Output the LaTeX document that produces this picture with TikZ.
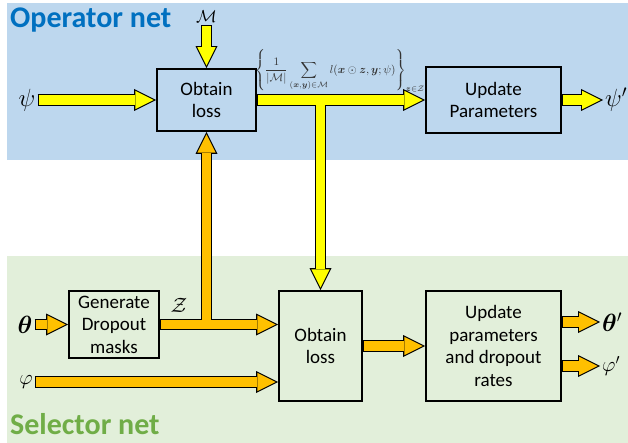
\documentclass[tikz,border=0pt]{standalone}
\usepackage[no-math]{fontspec}
\setmainfont{Carlito}
\usepackage{bm}
\usetikzlibrary{arrows.meta}
\definecolor{operatorbg}{HTML}{BDD7EE}
\definecolor{selectorbg}{HTML}{E2EFDA}
\definecolor{operatortext}{HTML}{0070C0}
\definecolor{selectortext}{HTML}{70AD47}
\definecolor{lossyellow}{HTML}{FFFF00}
\definecolor{maskorange}{HTML}{FFC000}

\begin{document}
\begin{tikzpicture}%
	[x=1pt, y=-1pt,
	box/.style={draw=black, line width=1.7pt, inner sep=0pt, align=center,
		font=\fontsize{19}{22.5}\selectfont},
	var/.style={inner sep=2pt, font=\fontsize{21}{25}\selectfont},
	title/.style={anchor=base west, inner sep=0pt, font=\fontsize{30}{36}\selectfont\bfseries},
	arrowedge/.style={draw=black, line width=11.5pt,
		-{Triangle[length=22pt,width=22pt,line width=0pt]}},
	arrowbody/.style={draw=#1, line width=9.3pt, shorten <=1.1pt, shorten >=2.46pt,
		-{Triangle[length=18.44pt,width=18.44pt,line width=0pt]}}]
%
\useasboundingbox (0,0) rectangle (628,443);
\fill[operatorbg] (7,3) rectangle (628,160);
\fill[selectorbg] (7,256) rectangle (628,443);
\node[title, text=operatortext] (optitle) at (10,28) {Operator net};
\node[title, text=selectortext] (seltitle) at (10,434) {Selector net};
%%
%% Boxes
%%
\node[box, minimum width=99pt, minimum height=62pt] (obtainA) at (206.5,100) {Obtain\\loss};
\node[box, minimum width=135pt, minimum height=66pt] (updA) at (493.5,100) {Update\\Parameters};
\node[box, minimum width=90pt, minimum height=67pt] (genmask) at (114,324.5) {Generate\\Dropout\\masks};
\node[box, minimum width=83pt, minimum height=110pt] (obtainB) at (320.5,346) {Obtain\\loss};
\node[box, minimum width=135pt, minimum height=110pt] (updB) at (493.5,346) {Update\\parameters\\and dropout\\rates};
%%
%% Variables
%%
\node[var, font=\fontsize{25}{30}\selectfont] (psi) at (27,100) {$\psi$};
\node[var, font=\fontsize{25}{30}\selectfont, anchor=west] (psip) at (603,100) {$\psi'$};
\node[var, font=\fontsize{18}{22}\selectfont] (M) at (206.5,17) {$\mathcal{M}$};
\node[var] (Z) at (179,305) {$\mathcal{Z}$};
\node[var, font=\fontsize{24}{28}\selectfont] (theta) at (25,324.5) {$\bm{\theta}$};
\node[var] (phi) at (26,382) {$\varphi$};
\node[var, font=\fontsize{24}{28}\selectfont, anchor=west] (thetap) at (600,322) {$\bm{\theta}'$};
\node[var, anchor=west] (phip) at (600,366) {$\varphi'$};
\node[inner sep=0pt, text=black!80] (loss) at (340,71)
	{\resizebox{170pt}{!}{$\displaystyle\left\{\frac{1}{|\mathcal{M}|}\sum_{(\bm{x},\bm{y})\in\mathcal{M}} l(\bm{x}\odot\bm{z},\bm{y};\psi)\right\}_{\bm{z}\in\mathcal{Z}}$}};
%
\coordinate (ysplit) at (obtainA.east -| obtainB.north);
\coordinate (osplit) at (obtainA.south |- genmask.east);
\coordinate (zin) at (genmask.east -| obtainB.west);
\coordinate (phiin) at (phi -| obtainB.west);
%%
%% Drawing the arrow outlines
%%
\draw[arrowedge] (psi) -- (obtainA);
\draw[arrowedge] (M) -- (obtainA);
\draw[arrowedge] (obtainA) -- (updA);
\draw[arrowedge] (ysplit) -- (obtainB);
\draw[arrowedge] (updA) -- (psip);
\draw[arrowedge] (theta) -- (genmask);
\draw[arrowedge] (genmask) -- (zin);
\draw[arrowedge] (osplit) -- (obtainA);
\draw[arrowedge] (phi) -- (phiin);
\draw[arrowedge] (obtainB) -- (updB);
\draw[arrowedge] (updB.east |- thetap) -- (thetap);
\draw[arrowedge] (updB.east |- phip) -- (phip);
%%
%% Drawing the arrow bodies
%%
\draw[arrowbody=lossyellow] (psi) -- (obtainA);
\draw[arrowbody=lossyellow] (M) -- (obtainA);
\draw[arrowbody=lossyellow] (obtainA) -- (updA);
\draw[arrowbody=lossyellow] (ysplit) -- (obtainB);
\draw[arrowbody=lossyellow] (updA) -- (psip);
\draw[arrowbody=maskorange] (theta) -- (genmask);
\draw[arrowbody=maskorange] (genmask) -- (zin);
\draw[arrowbody=maskorange] (osplit) -- (obtainA);
\draw[arrowbody=maskorange] (phi) -- (phiin);
\draw[arrowbody=maskorange] (obtainB) -- (updB);
\draw[arrowbody=maskorange] (updB.east |- thetap) -- (thetap);
\draw[arrowbody=maskorange] (updB.east |- phip) -- (phip);
\end{tikzpicture}
\end{document}
